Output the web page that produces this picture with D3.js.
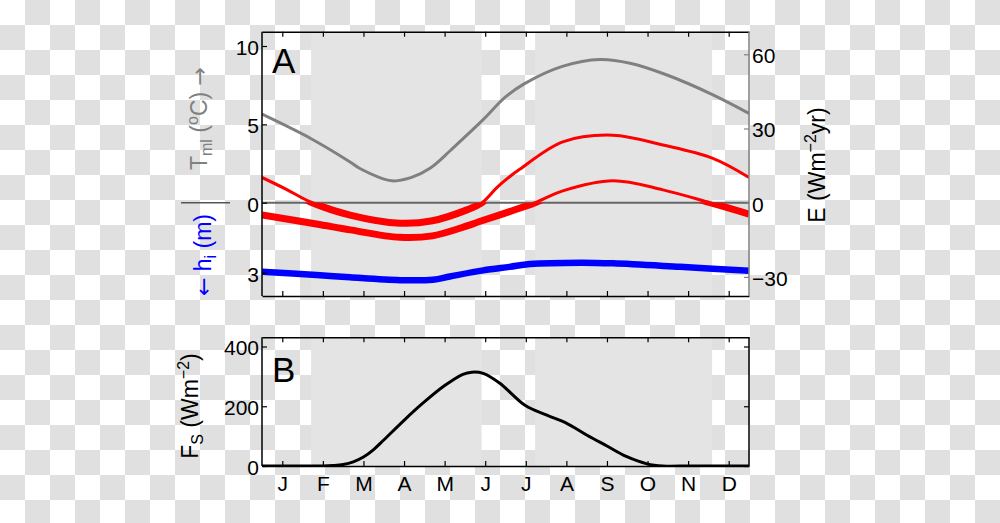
<!DOCTYPE html>
<html><head><meta charset="utf-8">
<script src="https://cdn.jsdelivr.net/npm/d3@7"></script>
<style>body{margin:0;background:#fff;} svg{display:block;font-family:"Liberation Sans",Arial,Helvetica,sans-serif;}</style>
</head><body><svg id="c" width="1000" height="523"></svg>
<script>
// ---------- data ----------
const monthLabels = ['J','F','M','A','M','J','J','A','S','O','N','D'];
const monthTicks = [0.5,1.5,2.5,3.5,4.5,5.5,6.5,7.5,8.5,9.5,10.5,11.5];
const shadeStart = [1.21, 6.73];
const shadeEnd   = [5.41, 11.09];

// mixed-layer temperature (degC) -- grey
const tempMonth = [0, 1.2, 2.17, 2.4, 3.2, 3.67, 4.14, 4.63, 5.0, 5.45, 6.0, 6.47, 7.4, 8.33, 9.07, 9.98, 11.1, 12];
const tempVal   = [5.65, 4.1, 2.6, 2.2, 1.4, 1.6, 2.2, 3.3, 4.2, 5.3, 6.75, 7.6, 8.7, 9.14, 8.9, 8.15, 6.9, 5.7];

// E (W m-2 yr) -- red, two curves
const e1Month = [0, 0.6, 1.18, 2.17, 3.4, 4.2, 5.05, 5.42, 5.78, 6.1, 6.35, 7.41, 8.65, 9.88, 11.11, 12];
const e1Val   = [10.2, 5.4, 0.4, -5, -8.3, -7.3, -2.9, 0, 6, 10.5, 13.5, 24.6, 27.3, 23.3, 17.9, 10.2];
const e2Month = [0, 1.34, 2.17, 3.4, 4.2, 5.05, 5.36, 6.1, 6.73, 7.41, 8.65, 9.88, 11.04, 12];
const e2Val   = [-5, -8.6, -11, -14, -13.4, -9.4, -7.6, -3.6, 0, 4.8, 8.9, 5.2, 0, -4.6];

// ice thickness h_i (m) -- blue
const iceMonth = [0, 1.34, 2.17, 3.4, 4.21, 4.63, 5.45, 6.1, 6.6, 7.85, 8.65, 10.3, 12];
const iceVal   = [2.96, 3.1, 3.2, 3.32, 3.3, 3.16, 2.9, 2.75, 2.63, 2.57, 2.6, 2.75, 2.92];

// shortwave flux F_S (W m-2) -- black
const fsMonth = [0, 1.0, 1.5, 1.75, 2.0, 2.25, 2.5, 2.75, 3.0, 3.5, 3.97, 4.51, 4.95, 5.17, 5.45, 5.86, 6.48, 7.02, 7.52, 8.01, 8.5, 8.99, 9.49, 9.88, 10.5, 11, 12];
const fsVal   = [0, 0, 0, 1.5, 5, 14, 30, 55, 87, 153, 211, 270, 307, 314, 310, 277, 203, 170, 142, 103, 67, 31, 7, 0, 0, 0, 0];

const tempTicks = [0, 5, 10];
const iceTicks = [3];
const eTicks = [-30, 0, 30, 60];
const fsTicks = [0, 200, 400];

// ---------- layout ----------
const L = 262, R = 749;
const aTop = 31.7, aBot = 296;
const bTop = 337.3, bBot = 466;
const FS = 21;

const svg = d3.select('#c');
const defs = svg.append('defs');
const pat = defs.append('pattern').attr('id','checker').attr('patternUnits','userSpaceOnUse')
  .attr('width',50).attr('height',50);
pat.append('rect').attr('width',50).attr('height',50).attr('fill','#ffffff');
pat.append('rect').attr('x',25).attr('y',0).attr('width',25).attr('height',25).attr('fill','#e0e0e0');
pat.append('rect').attr('x',0).attr('y',25).attr('width',25).attr('height',25).attr('fill','#e0e0e0');
svg.append('rect').attr('width',1000).attr('height',523).attr('fill','url(#checker)');

const x = d3.scaleLinear().domain([0,12]).range([L,R]);
const yT = d3.scaleLinear().domain([0,10]).range([202.7,46]);
const yH = d3.scaleLinear().domain([0,3]).range([202.7,272.7]);
const yE = d3.scaleLinear().domain([0,60]).range([202.7,54.3]);
const yF = d3.scaleLinear().domain([0,400]).range([466,346.5]);

const z = yE(0);
defs.append('clipPath').attr('id','clipA').append('rect').attr('x',L).attr('y',aTop).attr('width',R-L).attr('height',aBot-aTop);
defs.append('clipPath').attr('id','clipPos').append('rect').attr('x',L).attr('y',aTop).attr('width',R-L).attr('height',z-aTop);
defs.append('clipPath').attr('id','clipNeg').append('rect').attr('x',L).attr('y',z).attr('width',R-L).attr('height',aBot-z);
defs.append('clipPath').attr('id','clipB').append('rect').attr('x',L).attr('y',bTop).attr('width',R-L).attr('height',bBot-bTop);

// shading
[[aTop,aBot],[bTop,bBot]].forEach(([t,b]) => {
  shadeStart.forEach((s,i) => {
    svg.append('rect').attr('x',x(s)).attr('y',t).attr('width',x(shadeEnd[i])-x(s)).attr('height',b-t).attr('fill','#e4e4e4');
  });
});

// zero line
svg.append('line').attr('x1',L).attr('x2',R).attr('y1',z).attr('y2',z).attr('stroke','#666').attr('stroke-width',2);

const lineOf = (xs, ys, yscale) => d3.line().curve(d3.curveCatmullRom.alpha(0.5))
  .x((d,i)=>x(xs[i])).y((d,i)=>yscale(ys[i]))(ys);

const gA = svg.append('g').attr('clip-path','url(#clipA)');
gA.append('path').attr('d', lineOf(tempMonth,tempVal,yT)).attr('fill','none').attr('stroke','#808080').attr('stroke-width',3);
[[e1Month,e1Val],[e2Month,e2Val]].forEach(([m,v]) => {
  const d = lineOf(m,v,yE);
  svg.append('path').attr('clip-path','url(#clipPos)').attr('d',d).attr('fill','none').attr('stroke','#ff0000').attr('stroke-width',3);
  svg.append('path').attr('clip-path','url(#clipNeg)').attr('d',d).attr('fill','none').attr('stroke','#ff0000').attr('stroke-width',7).attr('stroke-linejoin','round');
});
gA.append('path').attr('d', lineOf(iceMonth,iceVal,yH)).attr('fill','none').attr('stroke','#0000ff').attr('stroke-width',6.5).attr('stroke-linejoin','round');

// panel B curve
svg.append('g').attr('clip-path','url(#clipB)').append('path').attr('d', lineOf(fsMonth,fsVal,yF))
  .attr('fill','none').attr('stroke','#000').attr('stroke-width',3).attr('stroke-linejoin','round');

// ---------- axes ----------
function styleAxis(g, color, textColor) {
  g.selectAll('.domain').attr('stroke',color).attr('stroke-width',1.5);
  g.selectAll('.tick line').attr('stroke',color).attr('stroke-width',1.2);
  g.selectAll('text').attr('fill',textColor||'#000').attr('font-size',FS).attr('font-family','"Liberation Sans",Arial,Helvetica,sans-serif');
}
// Panel A
let g;
g = svg.append('g').attr('transform',`translate(0,${aTop})`).call(d3.axisTop(x).tickValues(monthTicks).tickSize(-5).tickSizeOuter(0).tickFormat(''));
styleAxis(g,'#000');
g = svg.append('g').attr('transform',`translate(0,${aBot})`).call(d3.axisBottom(x).tickValues(monthTicks).tickSize(-5).tickSizeOuter(0).tickFormat(''));
styleAxis(g,'#000');
g = svg.append('g').attr('transform',`translate(${L},0)`).call(d3.axisLeft(yT).tickValues(tempTicks).tickSize(-5).tickPadding(3).tickFormat(d3.format('d')));
g.select('.domain').remove();
g.selectAll('text').attr('dy','0.4em');
styleAxis(g,'#000');
g = svg.append('g').attr('transform',`translate(${L},0)`).call(d3.axisLeft(yH).tickValues(iceTicks).tickSize(-5).tickPadding(3).tickFormat(d3.format('d')));
g.select('.domain').remove();
g.selectAll('text').attr('dy','0.4em');
styleAxis(g,'#000');
svg.append('line').attr('x1',L).attr('x2',L).attr('y1',aTop).attr('y2',aBot).attr('stroke','#000').attr('stroke-width',1.5);
g = svg.append('g').attr('transform',`translate(${R},0)`).call(d3.axisRight(yE).tickValues(eTicks).tickSize(-5).tickPadding(3).tickFormat(d3.format('d')));
g.select('.domain').remove();
g.selectAll('text').attr('dy','0.4em');
styleAxis(g,'#808080','#000');
svg.append('line').attr('x1',R).attr('x2',R).attr('y1',aTop).attr('y2',aBot).attr('stroke','#808080').attr('stroke-width',1.5);

// Panel B
g = svg.append('g').attr('transform',`translate(0,${bTop})`).call(d3.axisTop(x).tickValues(monthTicks).tickSize(-5).tickSizeOuter(0).tickFormat(''));
styleAxis(g,'#000');
g = svg.append('g').attr('transform',`translate(0,${bBot})`).call(d3.axisBottom(x).tickValues(monthTicks).tickSize(-5).tickSizeOuter(0).tickPadding(10).tickFormat((d,i)=>monthLabels[i]));
styleAxis(g,'#000');
g = svg.append('g').attr('transform',`translate(${L},0)`).call(d3.axisLeft(yF).tickValues(fsTicks).tickSize(-5).tickPadding(3).tickFormat(d3.format('d')));
g.select('.domain').remove();
g.selectAll('text').attr('dy','0.4em');
styleAxis(g,'#000');
g = svg.append('g').attr('transform',`translate(${R},0)`).call(d3.axisRight(yF).tickValues(fsTicks).tickSize(-5).tickFormat(''));
g.select('.domain').remove();
styleAxis(g,'#000');
svg.append('line').attr('x1',L).attr('x2',L).attr('y1',bTop).attr('y2',bBot).attr('stroke','#000').attr('stroke-width',1.5);
svg.append('line').attr('x1',R).attr('x2',R).attr('y1',bTop).attr('y2',bBot).attr('stroke','#000').attr('stroke-width',1.5);

// ---------- labels ----------
function rotLabel(cx, cy, color, parts) {
  const t = svg.append('text').attr('transform',`translate(${cx},${cy}) rotate(-90)`)
    .attr('text-anchor','middle').attr('fill',color).attr('font-size',23);
  let shift = 0;
  parts.forEach(([s,type]) => {
    const target = type==='sub' ? 5 : type==='sup' ? -9 : 0;
    const ts = t.append('tspan').attr('dy', target - shift).attr('font-size', (type==='n'||type==='arrow')?23:16).text(s);
    if (type==='arrow') ts.attr('font-family','"DejaVu Sans",sans-serif').attr('font-size',22);
    shift = target;
  });
}
rotLabel(207, 118.5, '#808080', [['T','n'],['ml','sub'],[' (','n'],['o','sup'],['C) ','n'],['\u2192','arrow']]);
rotLabel(210.5, 255, '#0000ff', [['\u2190','arrow'],[' h','n'],['i','sub'],[' (m)','n']]);
rotLabel(825, 165, '#000', [['E (Wm','n'],['\u22122','sup'],['yr)','n']]);
rotLabel(198, 406, '#000', [['F','n'],['S','sub'],[' (Wm','n'],['\u22122','sup'],[')','n']]);

svg.append('line').attr('x1',181).attr('x2',230).attr('y1',z).attr('y2',z).attr('stroke','#555').attr('stroke-width',1.5);

svg.append('text').attr('x',272).attr('y',73.3).attr('font-size',35).text('A');
svg.append('text').attr('x',272).attr('y',381.7).attr('font-size',35).text('B');
</script></body></html>
